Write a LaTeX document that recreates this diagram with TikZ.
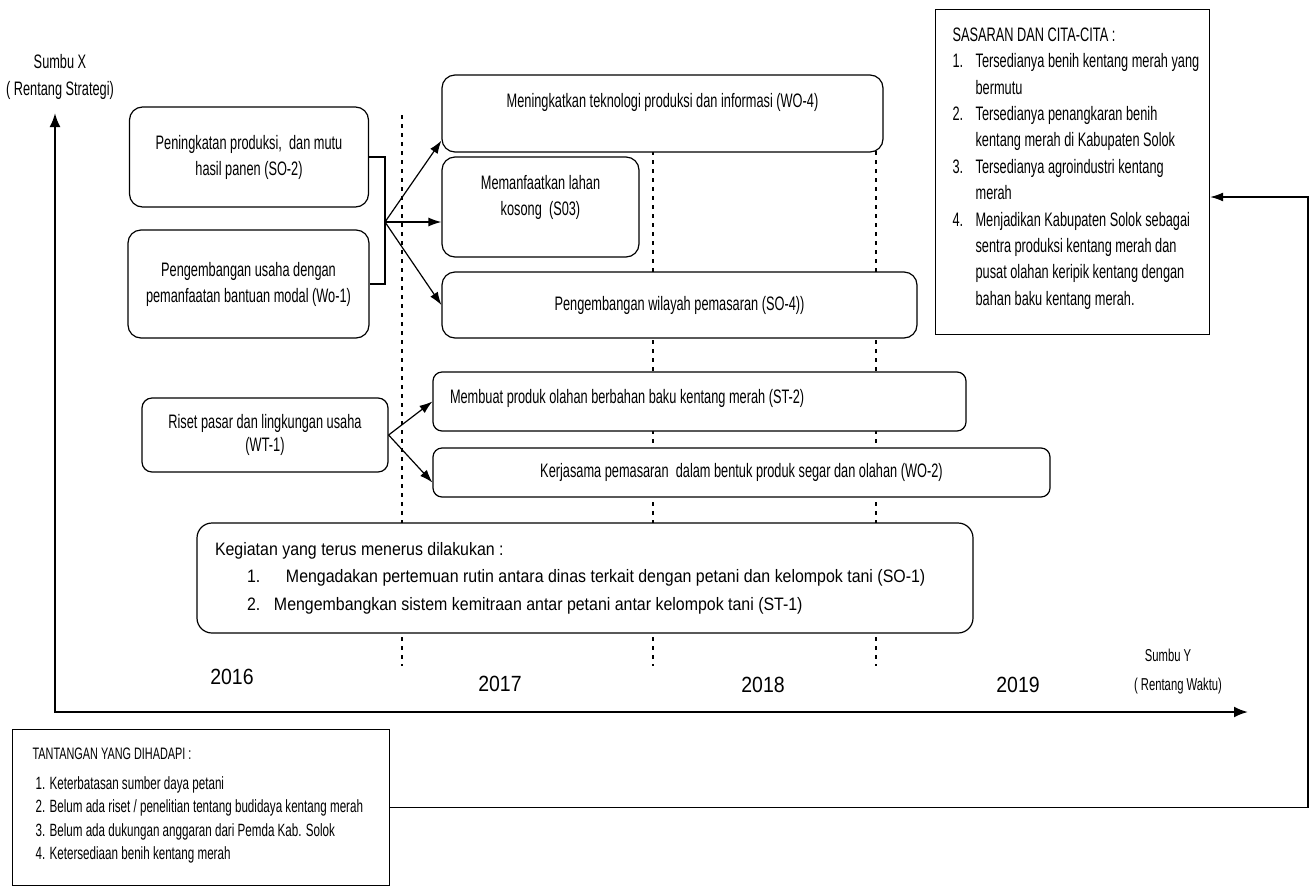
\documentclass[tikz,border=0pt]{standalone}
\usepackage{fontspec}
\setmainfont{Liberation Sans}
\newfontfamily\narrowfont[FakeStretch=0.655]{Liberation Sans}
\newfontfamily\widefont[FakeStretch=0.885]{Liberation Sans}
\usetikzlibrary{arrows.meta}

\tikzset{
    box/.style={draw, rounded corners=13pt, fill=white, line width=1.2pt, inner sep=0pt,
        align=center, font=\narrowfont\fontsize{19.5}{26}\selectfont},
    panel/.style={draw, fill=white, line width=1.2pt, inner sep=0pt},
    yearsep/.style={line width=1.4pt, dash pattern=on 4pt off 5pt},
    yearlabel/.style={font=\widefont\fontsize{22}{26}\selectfont},
    axislabel/.style={align=center, font=\narrowfont\fontsize{19.5}{27}\selectfont},
    arr/.style={line width=1.2pt, -{Latex[length=13pt,width=9pt]}},
    axis/.style={line width=2.2pt, {Latex[length=14pt,width=11pt]}-{Latex[length=14pt,width=11pt]}},
}

\begin{document}
\begin{tikzpicture}[x=1pt, y=-1pt]
    \useasboundingbox (0,0) rectangle (1309,887);

    % year borders
    \foreach \xs in {402,653,876}
        \draw [yearsep] (\xs,115) -- (\xs,666);

    % axes
    \coordinate (ytip) at (55,113);
    \coordinate (origin) at (55,712);
    \coordinate (xtip) at (1248,712);
    \draw [axis] (ytip) -- (origin) -- (xtip);
    \node [axislabel] (yname) at (60,77) {Sumbu X\\( Rentang Strategi)};
    \node [axislabel, font=\narrowfont\fontsize{17.2}{29}\selectfont] (xname) at (1178,672) {Sumbu Y\hspace*{20pt}\\( Rentang Waktu)};

    \node [yearlabel] (y16) at (232,677) {2016};
    \node [yearlabel] (y17) at (500,684) {2017};
    \node [yearlabel] (y18) at (763,685) {2018};
    \node [yearlabel] (y19) at (1018,685) {2019};

    % strategies
    \node [box, minimum width=239pt, minimum height=100pt] (so2) at (249,157) {Peningkatan produksi, \ dan mutu\\hasil panen (SO-2)};
    \node [box, minimum width=241pt, minimum height=108pt] (wo1) at (248.5,284) {Pengembangan usaha dengan\\pemanfaatan bantuan modal (Wo-1)};
    \node [box, minimum width=441pt, minimum height=77pt, text height=14.2pt, text depth=27.2pt] (wo4) at (662.5,113.5) {Meningkatkan teknologi produksi dan informasi (WO-4)};
    \node [box, minimum width=197pt, minimum height=100pt, text depth=23pt] (so3) at (540.5,207) {Memanfaatkan lahan\\kosong \ (S03)};
    \node [box, minimum width=475pt, minimum height=66pt] (so4) at (679.5,305) {Pengembangan wilayah pemasaran (SO-4))};
    \node [box, rounded corners=10pt, minimum width=246pt, minimum height=74pt, font=\narrowfont\fontsize{19.5}{23}\selectfont] (wt1) at (265,435) {Riset pasar dan lingkungan usaha\\(WT-1)};
    \node [box, rounded corners=9pt, minimum width=533pt, minimum height=59pt, align=flush left, text width=499pt, inner xsep=17pt, text depth=10pt] (st2) at (699.5,401.5) {Membuat produk olahan berbahan baku kentang merah (ST-2)};
    \node [box, rounded corners=9pt, minimum width=617pt, minimum height=49pt] (wo2) at (741.5,472.5) {Kerjasama pemasaran \ dalam bentuk produk segar dan olahan (WO-2)};
    \node [box, rounded corners=15pt, minimum width=776pt, minimum height=110pt, align=flush left, text width=740pt, inner xsep=18pt,
        font=\widefont\fontsize{18}{27.5}\selectfont] (ongoing) at (585,578)
        {Kegiatan yang terus menerus dilakukan :\\
         \hspace*{32pt}\makebox[39pt][l]{1.}Mengadakan pertemuan rutin antara dinas terkait dengan petani dan kelompok tani (SO-1)\\
         \hspace*{32pt}\makebox[27pt][l]{2.}Mengembangkan sistem kemitraan antar petani antar kelompok tani (ST-1)};

    % goals and challenges
    \node [panel, anchor=north west, inner xsep=17pt, inner ysep=18pt, font=\narrowfont\fontsize{19.5}{26.4}\selectfont] (goals) at (935,9)
        {\parbox[c][289pt][t]{240pt}{SASARAN DAN CITA-CITA :\\
         \makebox[23pt][l]{1.}\mbox{Tersedianya benih kentang merah yang}\\
         \hspace*{23pt}bermutu\\
         \makebox[23pt][l]{2.}\mbox{Tersedianya penangkaran benih}\\
         \hspace*{23pt}\mbox{kentang merah di Kabupaten Solok}\\
         \makebox[23pt][l]{3.}\mbox{Tersedianya agroindustri kentang}\\
         \hspace*{23pt}merah\\
         \makebox[23pt][l]{4.}\mbox{Menjadikan Kabupaten Solok sebagai}\\
         \hspace*{23pt}\mbox{sentra produksi kentang merah dan}\\
         \hspace*{23pt}\mbox{pusat olahan keripik kentang dengan}\\
         \hspace*{23pt}\mbox{bahan baku kentang merah.}}};
    \node [panel, anchor=north west, inner xsep=20pt, inner ysep=18pt, font=\narrowfont\fontsize{17.75}{23.5}\selectfont] (challenges) at (12,729)
        {\parbox[c][120pt][t]{337pt}{{\fontsize{16.6}{24}\selectfont TANTANGAN YANG DIHADAPI :}\\[6.5pt]
         \hspace*{3pt}1. Keterbatasan sumber daya petani\\
         \hspace*{3pt}\mbox{2. Belum ada riset / penelitian tentang budidaya kentang merah}\\
         \hspace*{3pt}3. Belum ada dukungan anggaran dari Pemda Kab. Solok\\
         \hspace*{3pt}4. Ketersediaan benih kentang merah}};

    % connectors
    \coordinate (fork) at (385,222);
    \draw [line width=1.2pt] (so2.east) -| (fork) |- (wo1.east);
    \draw [arr] (fork) -- ([yshift=12pt]wo4.south west);
    \draw [arr] (fork) -- (so3.west |- fork);
    \draw [arr] (fork) -- (so4.west);
    \draw [arr] (wt1.east) -- (st2.west);
    \draw [arr] (wt1.east) -- ([yshift=-10pt]wo2.west);
    \coordinate (turn) at (1308,197);
    \draw [arr] (challenges.east) -| (turn) -- (turn -| goals.east);
\end{tikzpicture}
\end{document}
